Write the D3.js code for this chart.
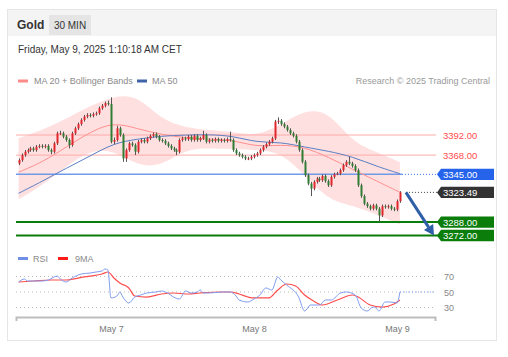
<!DOCTYPE html>
<html><head><meta charset="utf-8">
<script src="https://cdn.jsdelivr.net/npm/d3@7"></script>
<style>
html,body{margin:0;padding:0;background:#fff;}
svg{display:block;font-family:"Liberation Sans",Arial,sans-serif;}
</style></head><body>
<svg id="c" width="508" height="357"></svg>
<script>
// ---------- data ----------
const title = "Gold";
const timeframe = "30 MIN";
const dateText = "Friday, May 9, 2025 1:10:18 AM CET";
const legendMain = ["MA 20 + Bollinger Bands", "MA 50"];
const creditText = "Research \u00A9 2025 Trading Central";
const rsiLegend = ["RSI", "9MA"];
const dayTicks = [new Date(2025,4,7), new Date(2025,4,8), new Date(2025,4,9)];
const rsiTicks = [70, 50, 30];
const levelsRed = [3392, 3368];
const levelBlue = 3345;
const lastPrice = 3323.49;
const levelsGreen = [3288, 3272];
const candleStart = new Date(2025,4,6,8,30); // first 30-min candle

const candleOpen = [
3358,3362,3368,3372,3374,3376,3374,3378,3379,3378,
3379,3374,3372,3382,3394,3394,3390,3386,3380,3394,
3400,3405,3410,3414,3416,3415,3417,3418,3424,3427,
3430,3429,3384,3386,3400,3392,3364,3374,3382,3380,
3372,3384,3386,3384,3388,3391,3393,3390,3386,3385,
3382,3379,3376,3374,3372,3386,3388,3387,3390,3386,
3391,3386,3388,3392,3384,3386,3385,3387,3385,3386,
3385,3387,3386,3374,3370,3368,3366,3364,3364,3366,
3368,3370,3374,3378,3381,3384,3388,3408,3409,3405,
3402,3398,3394,3391,3384,3374,3360,3344,3334,3328,
3336,3340,3338,3343,3337,3332,3342,3345,3346,3350,
3356,3360,3358,3355,3350,3332,3319,3310,3307,3304,
3308,3304,3296,3307,3306,3307,3304,3303,3313];
const candleClose = [
3362,3368,3372,3374,3376,3374,3378,3379,3378,3379,
3374,3372,3382,3394,3394,3390,3386,3380,3394,3400,
3405,3410,3414,3416,3415,3417,3418,3424,3427,3430,
3429,3384,3386,3400,3392,3364,3374,3382,3380,3372,
3384,3386,3384,3388,3391,3393,3390,3386,3385,3382,
3379,3376,3374,3372,3386,3388,3387,3390,3386,3391,
3386,3388,3392,3384,3386,3385,3387,3385,3386,3385,
3387,3386,3374,3370,3368,3366,3364,3364,3366,3368,
3370,3374,3378,3381,3384,3388,3408,3409,3405,3402,
3398,3394,3391,3384,3374,3360,3344,3334,3328,3336,
3340,3338,3343,3337,3332,3342,3345,3346,3350,3356,
3360,3358,3355,3350,3332,3319,3310,3307,3304,3308,
3304,3296,3307,3306,3307,3304,3303,3313,3323.49];
const candleHigh = [
3364,3370,3374,3376,3378,3378,3380,3381,3381,3381,
3381,3376,3384,3396,3397,3396,3392,3388,3396,3402,
3407,3412,3416,3418,3418,3419,3420,3426,3429,3432,
3433,3437,3389,3403,3402,3394,3376,3384,3384,3382,
3386,3388,3388,3390,3393,3395,3395,3392,3388,3387,
3384,3381,3378,3376,3388,3390,3390,3392,3392,3393,
3393,3390,3397,3394,3388,3388,3389,3389,3388,3388,
3389,3396,3388,3376,3372,3370,3368,3366,3368,3370,
3372,3376,3380,3383,3386,3390,3410,3413,3411,3407,
3404,3400,3396,3393,3386,3376,3362,3346,3336,3338,
3342,3342,3345,3345,3339,3344,3347,3348,3352,3358,
3362,3366,3360,3357,3352,3334,3321,3312,3309,3310,
3310,3306,3309,3309,3309,3309,3306,3315,3325];
const candleLow = [
3356,3360,3366,3370,3372,3372,3372,3376,3376,3376,
3372,3369,3370,3380,3392,3388,3384,3376,3378,3392,
3398,3403,3408,3412,3413,3413,3415,3416,3422,3425,
3427,3382,3381,3384,3390,3360,3360,3372,3378,3368,
3370,3382,3382,3382,3386,3389,3388,3384,3383,3380,
3377,3374,3372,3368,3370,3384,3385,3385,3384,3384,
3384,3384,3386,3382,3382,3383,3383,3383,3383,3383,
3383,3384,3372,3368,3366,3364,3362,3362,3362,3364,
3366,3368,3372,3376,3379,3382,3386,3405,3403,3400,
3396,3392,3389,3382,3372,3358,3342,3332,3319,3326,
3334,3336,3336,3335,3330,3330,3340,3344,3344,3348,
3354,3356,3353,3348,3330,3317,3308,3305,3302,3302,
3302,3288,3294,3304,3304,3302,3301,3301,3311];

// overlays sampled at candle indices
const overlayIdx = [0,8,16,24,32,40,48,56,64,72,80,88,96,104,112,120,128];
const ma20Vals  = [3347.6,3359.6,3377.6,3395.6,3407.6,3399.2,3392.6,3388.4,3387.2,3386,3377.6,3380.6,3377.6,3365.6,3351.2,3337.4,3323.6];
const ma50Vals  = [3322.4,3336.8,3352.4,3366.8,3382.4,3387.2,3390.8,3392,3392.6,3390.8,3383,3383.6,3377.6,3372.8,3366.2,3354.8,3345.8];
const bbUpper   = [3388.4,3398,3411.2,3426.8,3438.8,3439.4,3410,3401,3398,3395.6,3390.8,3404,3422,3420.8,3383.6,3371.6,3359.6];
const bbLower   = [3315.2,3332,3354.8,3374,3374,3354.8,3354.8,3375.2,3376.4,3375.2,3374,3371.6,3344,3314,3308,3297.2,3285.2];

const rsiIdx = [0,2,3,5,8,10,13,14,16,18,21,24,26,28,29,30,31,33,34,35,37,39,41,43,46,48,50,52,54,56,58,60,61,62,64,68,71,73,74,77,79,81,83,85,87,88,90,94,96,98,101,103,105,108,110,113,115,117,119,120,121,123,125,127,128];
const rsiVals = [62.9,66.8,64.2,64.2,64.2,65.5,70.6,66.8,62.9,68.1,73.2,74.5,75.8,77.1,79.7,78.4,42.3,44.8,50,43.5,35.8,43.5,46.1,48.7,50,51.3,48.7,43.5,41,51.3,48.7,50,52.6,48.7,48.7,50,50,44.8,39.7,37.1,41,46.1,55.2,52.6,69.4,65.5,59,43.5,25.5,33.2,33.2,39.7,39.7,48.7,50,46.1,29.4,25.5,30.6,29.4,25.5,37.1,37.1,35.8,50];
const ma9Idx = [0,5,11,16,22,28,30,32,34,37,39,43,48,52,57,61,68,71,74,77,79,84,87,90,93,96,99,102,107,112,114,118,122,126,128];
const ma9Vals = [62.9,64.2,65.5,65.5,69.4,73.2,75.8,68.1,61.6,55.2,44.8,43.5,47.4,48.7,47.4,48.7,50,50,47.4,43.5,42.3,42.3,52.6,60.3,57.7,46.1,38.4,33.2,39.7,46.1,43.5,33.2,30.6,34.5,39.7];

// ---------- drawing ----------
const svg = d3.select("#c");
const HALF = 30*60*1000;
const tAt = i => new Date(candleStart.getTime() + i*HALF);

const x = d3.scaleTime().domain([new Date(2025,4,6,8,4), new Date(2025,4,9,6,23)]).range([16,435]);
const y = d3.scaleLinear().domain([3272, 3392]).range([235.5, 135]);
const yr = d3.scaleLinear().domain([30, 70]).range([307.5, 276.5]);

// card
svg.append("rect").attr("x",7.5).attr("y",9.5).attr("width",489).attr("height",331)
  .attr("fill","#fff").attr("stroke","#e6e6e6");
svg.append("rect").attr("x",8).attr("y",10).attr("width",488).attr("height",26).attr("fill","#f4f4f4");
svg.append("text").attr("x",17).attr("y",29).attr("font-size",12).attr("font-weight","bold").attr("fill","#333").text(title);
svg.append("rect").attr("x",49).attr("y",15).attr("width",42).attr("height",20).attr("fill","#e5e5e5");
svg.append("text").attr("x",70).attr("y",29).attr("text-anchor","middle").attr("font-size",10).attr("fill","#333").text(timeframe);
svg.append("text").attr("x",18).attr("y",53).attr("font-size",10).attr("fill","#333").text(dateText);

// main legend
svg.append("rect").attr("x",18).attr("y",79.5).attr("width",10).attr("height",3).attr("fill","#ff8a8a");
svg.append("text").attr("x",34).attr("y",84).attr("font-size",9).attr("fill","#8a8a8a").text(legendMain[0]);
svg.append("rect").attr("x",137).attr("y",79.5).attr("width",10).attr("height",3).attr("fill","#3f63a8");
svg.append("text").attr("x",152).attr("y",84).attr("font-size",9).attr("fill","#8a8a8a").text(legendMain[1]);
svg.append("text").attr("x",490).attr("y",84).attr("text-anchor","end").attr("font-size",9).attr("fill","#9a9a9a").text(creditText);

// bollinger band fill
const ovData = overlayIdx.map((k,j)=>({t:tAt(k), m20:ma20Vals[j], m50:ma50Vals[j], up:bbUpper[j], lo:bbLower[j]}));
svg.append("path").datum(ovData)
  .attr("d", d3.area().curve(d3.curveBasis).x(d=>x(d.t)).y0(d=>y(d.lo)).y1(d=>y(d.up)))
  .attr("fill","#ff0000").attr("fill-opacity",0.12);

// level lines
const lastT = tAt(candleClose.length-1);
levelsRed.forEach(v=>{
  svg.append("line").attr("x1",16).attr("x2",436).attr("y1",y(v)).attr("y2",y(v))
    .attr("stroke","#ffaaaa").attr("stroke-width",1);
  svg.append("text").attr("x",443).attr("y",y(v)+3.5).attr("font-size",9.5).attr("fill","#ff4d4d").text(v.toFixed(2));
});
svg.append("line").attr("x1",16).attr("x2",x(lastT)+2).attr("y1",y(levelBlue)).attr("y2",y(levelBlue))
  .attr("stroke","#6f9ae8").attr("stroke-width",1.5);
svg.append("line").attr("x1",x(lastT)+2).attr("x2",437).attr("y1",y(levelBlue)).attr("y2",y(levelBlue))
  .attr("stroke","#2f6fe8").attr("stroke-width",1).attr("stroke-dasharray","1,2");
svg.append("line").attr("x1",x(lastT)+6).attr("x2",437).attr("y1",y(lastPrice)).attr("y2",y(lastPrice))
  .attr("stroke","#444").attr("stroke-width",1).attr("stroke-dasharray","1,2");
levelsGreen.forEach(v=>{
  svg.append("line").attr("x1",16).attr("x2",438).attr("y1",y(v)).attr("y2",y(v))
    .attr("stroke","#0a7d0a").attr("stroke-width",2);
});

// MA lines
svg.append("path").datum(ovData).attr("fill","none").attr("stroke","#ff8f8f").attr("stroke-width",1)
  .attr("d", d3.line().curve(d3.curveBasis).x(d=>x(d.t)).y(d=>y(d.m20)));
svg.append("path").datum(ovData).attr("fill","none").attr("stroke","#5b7fc4").attr("stroke-width",1)
  .attr("d", d3.line().curve(d3.curveBasis).x(d=>x(d.t)).y(d=>y(d.m50)));

// candles
const candles = candleClose.map((c,i)=>({t:tAt(i), o:candleOpen[i], h:candleHigh[i], l:candleLow[i], c}));
const cg = svg.append("g");
cg.selectAll("line.w").data(candles).join("line")
  .attr("x1",d=>Math.round(x(d.t))+0.5).attr("x2",d=>Math.round(x(d.t))+0.5)
  .attr("y1",d=>y(d.h)).attr("y2",d=>y(d.l)).attr("stroke","#555").attr("stroke-width",1);
cg.selectAll("rect").data(candles).join("rect")
  .attr("x",d=>Math.round(x(d.t))-0.5).attr("width",2)
  .attr("y",d=>y(Math.max(d.o,d.c)))
  .attr("height",d=>Math.max(1, Math.abs(y(d.o)-y(d.c))))
  .attr("fill",d=>d.c>=d.o ? "#e0262c" : "#2e7d32");

// label boxes
function tag(v, color){
  const yc = y(v);
  svg.append("path").attr("d",`M437,${yc} L441,${yc-5.7} L494,${yc-5.7} L494,${yc+5.7} L441,${yc+5.7} Z`).attr("fill",color);
  svg.append("text").attr("x",443).attr("y",yc+3.5).attr("font-size",9.5).attr("fill","#fff").text(v.toFixed(2));
}
tag(levelBlue, "#2563eb");
tag(lastPrice, "#333333");
levelsGreen.forEach(v=>tag(v, "#0a7d0a"));

// forecast arrow
const ax0 = x(lastT)+6, ay0 = y(lastPrice), ax1 = 434, ay1 = y(levelsGreen[1]);
const ang = Math.atan2(ay1-ay0, ax1-ax0);
const hl = 10, hw = 5.5;
const bx = ax1 - hl*Math.cos(ang), by = ay1 - hl*Math.sin(ang);
svg.append("line").attr("x1",ax0).attr("y1",ay0).attr("x2",bx).attr("y2",by)
  .attr("stroke","#2f5fa6").attr("stroke-width",3);
svg.append("path").attr("fill","#2f5fa6")
  .attr("d",`M${ax1},${ay1} L${bx+hw*Math.sin(ang)},${by-hw*Math.cos(ang)} L${bx-hw*Math.sin(ang)},${by+hw*Math.cos(ang)} Z`);

// RSI panel
svg.append("rect").attr("x",18).attr("y",257).attr("width",10).attr("height",3).attr("fill","#6f8fe6");
svg.append("text").attr("x",33).attr("y",262).attr("font-size",9).attr("fill","#8a8a8a").text(rsiLegend[0]);
svg.append("rect").attr("x",58).attr("y",257).attr("width",10).attr("height",3).attr("fill","#ff1a1a");
svg.append("text").attr("x",75).attr("y",262).attr("font-size",9).attr("fill","#8a8a8a").text(rsiLegend[1]);

rsiTicks.forEach(v=>{
  svg.append("line").attr("x1",16).attr("x2",436).attr("y1",yr(v)).attr("y2",yr(v))
    .attr("stroke","#bdbdbd").attr("stroke-dasharray","1,3");
  svg.append("text").attr("x",444).attr("y",yr(v)+3.5).attr("font-size",9).attr("fill","#888").text(v);
});
const rsiData = rsiIdx.map((k,j)=>({t:tAt(k), v:rsiVals[j]}));
const ma9Data = ma9Idx.map((k,j)=>({t:tAt(k), v:ma9Vals[j]}));
svg.append("path").datum(ma9Data).attr("fill","none").attr("stroke","#ff4d4d").attr("stroke-width",1.2)
  .attr("d", d3.line().curve(d3.curveMonotoneX).x(d=>x(d.t)).y(d=>yr(d.v)));
svg.append("path").datum(rsiData).attr("fill","none").attr("stroke","#7f9cf0").attr("stroke-width",1)
  .attr("d", d3.line().curve(d3.curveMonotoneX).x(d=>x(d.t)).y(d=>yr(d.v)));
const lastR = rsiData[rsiData.length-1];
svg.append("line").attr("x1",x(lastR.t)).attr("x2",434).attr("y1",yr(lastR.v)).attr("y2",yr(lastR.v))
  .attr("stroke","#7f9cf0").attr("stroke-dasharray","1,2");

// x axis
const xAxis = d3.axisBottom(x).tickValues(dayTicks).tickFormat(d3.timeFormat("%b %-d"))
  .tickSizeInner(0).tickSizeOuter(4).tickPadding(9);
const ag = svg.append("g").attr("transform","translate(0,317)").call(xAxis);
ag.select(".domain").attr("stroke","#bdbdbd").attr("stroke-width",2);
ag.selectAll("text").attr("font-size",9).attr("fill","#777").attr("font-family","Liberation Sans, Arial, sans-serif");
</script>
</body></html>
